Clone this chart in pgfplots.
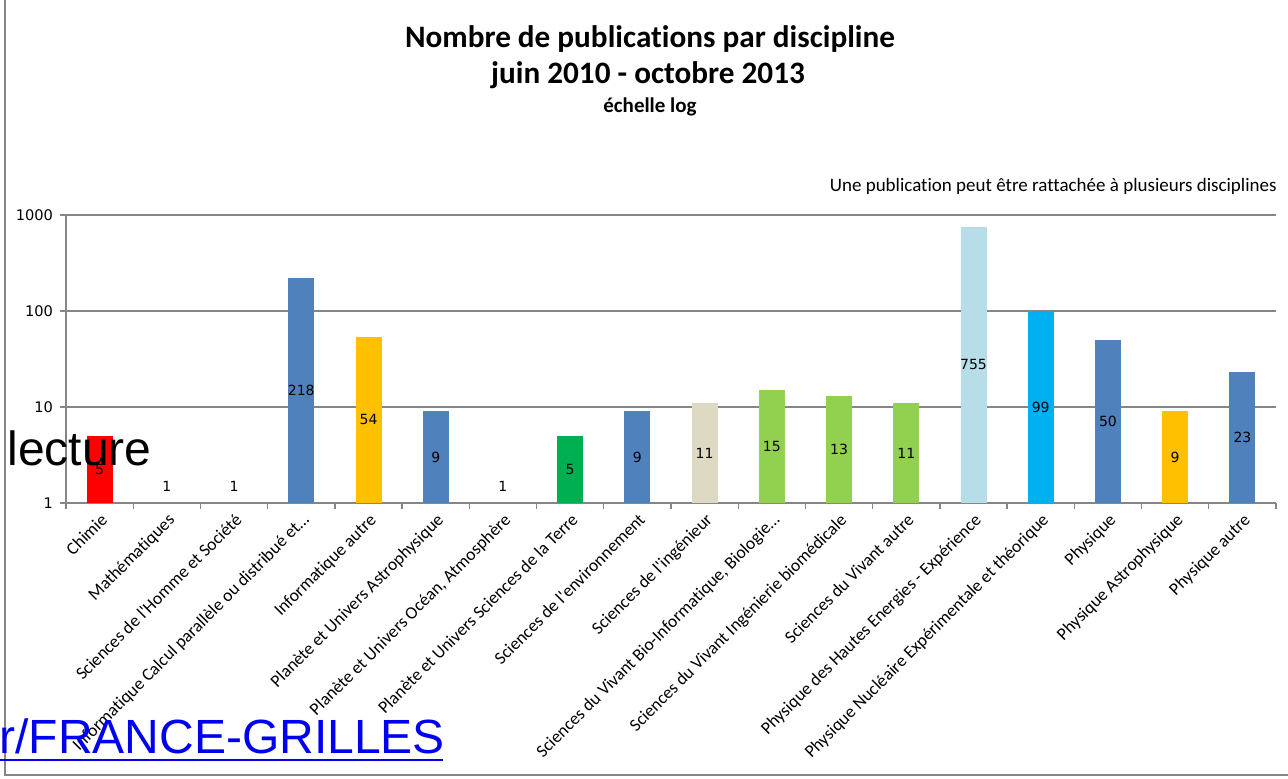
\documentclass[border=0pt]{standalone}
\usepackage{fontspec}
\setmainfont{Carlito}[Ligatures={TeXOff,NoCommon}]
\newfontfamily\dejavu{DejaVu Sans}
\newfontfamily\arialf{Liberation Sans}
\usepackage{pgfplots}
\pgfplotsset{compat=1.18}
\usepackage{pgfplotstable}

\definecolor{xred}{HTML}{FF0000}
\definecolor{xblue}{HTML}{4F81BD}
\definecolor{xgold}{HTML}{FFC000}
\definecolor{xgreen}{HTML}{00B050}
\definecolor{xbeige}{HTML}{DDD9C3}
\definecolor{xlgreen}{HTML}{92D050}
\definecolor{xlblue}{HTML}{B7DEE8}
\definecolor{xcyan}{HTML}{00B0F0}
\definecolor{axgray}{HTML}{868686}
\definecolor{linkblue}{HTML}{0000F0}

\pgfplotstableread{
x v
1 5
2 1
3 1
4 218
5 54
6 9
7 1
8 5
9 9
10 11
11 15
12 13
13 11
14 755
15 99
16 50
17 9
18 23
}\data

\begin{document}
\begin{tikzpicture}
\path[use as bounding box] (0pt,0pt) rectangle (644pt,-389.5pt);
\begin{axis}[
  at={(33pt,-251.5pt)}, anchor=south west,
  scale only axis, width=605pt, height=144pt,
  ymode=log, ymin=1, ymax=1000, xmin=0.5, xmax=18.5,
  axis lines*=left,
  axis line style={axgray, line width=0.7pt},
  ymajorgrids, grid style={axgray, line width=0.7pt},
  ytick={1,10,100,1000}, yticklabels={1,10,100,1000},
  yminorticks=false,
  xtick={1,...,18},
  minor xtick={0.5,1.5,...,18.5},
  major x tick style={draw=none},
  tick style={axgray, line width=0.7pt},
  tick align=outside, major tick length=3pt, minor tick length=3pt,
  xticklabels={Chimie, Mathématiques, Sciences de l'Homme et Société, Informatique Calcul parallèle ou distribué et…, Informatique autre, Planète et Univers Astrophysique, {Planète et Univers Océan, Atmosphère}, Planète et Univers Sciences de la Terre, Sciences de l'environnement, Sciences de l'ingénieur, {Sciences du Vivant Bio-Informatique, Biologie…}, Sciences du Vivant Ingénierie biomédicale, Sciences du Vivant autre, Physique des Hautes Energies - Expérience, Physique Nucléaire Expérimentale et théorique, Physique, Physique Astrophysique, Physique autre},
  xticklabel style={rotate=45, anchor=north east, font=\fontsize{8.8}{10}\selectfont, inner sep=1pt},
  yticklabel style={font=\dejavu\fontsize{7.3}{9}\selectfont},
  clip=false,
]
\addplot[ybar, bar width=13pt, bar shift=0pt, fill=xred, draw=none] coordinates {(1,5)};
\addplot[ybar, bar width=13pt, bar shift=0pt, fill=xblue, draw=none] coordinates {(4,218)};
\addplot[ybar, bar width=13pt, bar shift=0pt, fill=xgold, draw=none] coordinates {(5,54)};
\addplot[ybar, bar width=13pt, bar shift=0pt, fill=xblue, draw=none] coordinates {(6,9)};
\addplot[ybar, bar width=13pt, bar shift=0pt, fill=xgreen, draw=none] coordinates {(8,5)};
\addplot[ybar, bar width=13pt, bar shift=0pt, fill=xblue, draw=none] coordinates {(9,9)};
\addplot[ybar, bar width=13pt, bar shift=0pt, fill=xbeige, draw=none] coordinates {(10,11)};
\addplot[ybar, bar width=13pt, bar shift=0pt, fill=xlgreen, draw=none] coordinates {(11,15)};
\addplot[ybar, bar width=13pt, bar shift=0pt, fill=xlgreen, draw=none] coordinates {(12,13)};
\addplot[ybar, bar width=13pt, bar shift=0pt, fill=xlgreen, draw=none] coordinates {(13,11)};
\addplot[ybar, bar width=13pt, bar shift=0pt, fill=xlblue, draw=none] coordinates {(14,755)};
\addplot[ybar, bar width=13pt, bar shift=0pt, fill=xcyan, draw=none] coordinates {(15,99)};
\addplot[ybar, bar width=13pt, bar shift=0pt, fill=xblue, draw=none] coordinates {(16,50)};
\addplot[ybar, bar width=13pt, bar shift=0pt, fill=xgold, draw=none] coordinates {(17,9)};
\addplot[ybar, bar width=13pt, bar shift=0pt, fill=xblue, draw=none] coordinates {(18,23)};
\addplot[only marks, mark=*, mark size=0pt, mark options={draw=none, fill=none},
  nodes near coords, point meta=explicit symbolic,
  nodes near coords style={font=\dejavu\fontsize{7}{8}\selectfont, anchor=center, text=black}]
  table[x=x, y expr={max(sqrt(\thisrow{v}),1.5)}, meta=v] {\data};
\end{axis}
\begin{scope}[x=0.5pt,y=-0.5pt]
\draw[axgray, line width=0.6pt] (5,0) -- (5,775) -- (1288,775);
\node[anchor=base, font=\bfseries\fontsize{15.6}{18}\selectfont] at (650,48) {Nombre de publications par discipline};
\node[anchor=base, font=\bfseries\fontsize{15.6}{18}\selectfont] at (648,84) {juin 2010 - octobre 2013};
\node[anchor=base, font=\bfseries\fontsize{10.5}{12}\selectfont] at (650,113) {échelle log};
\node[anchor=base east, inner sep=0pt, font=\fontsize{9.5}{11}\selectfont] at (1277,192) {Une publication peut être rattachée à plusieurs disciplines};
\node[anchor=base west, inner sep=0pt, font=\arialf\fontsize{24}{28}\selectfont] at (7,466) {lecture};
\node[anchor=base west, inner sep=0pt, text=linkblue, font=\arialf\fontsize{24}{28}\selectfont] at (-1,753) {r/FRANCE-GRILLES};
\draw[linkblue, line width=1.4pt] (0,760) -- (443,760);
\end{scope}
\end{tikzpicture}
\end{document}
